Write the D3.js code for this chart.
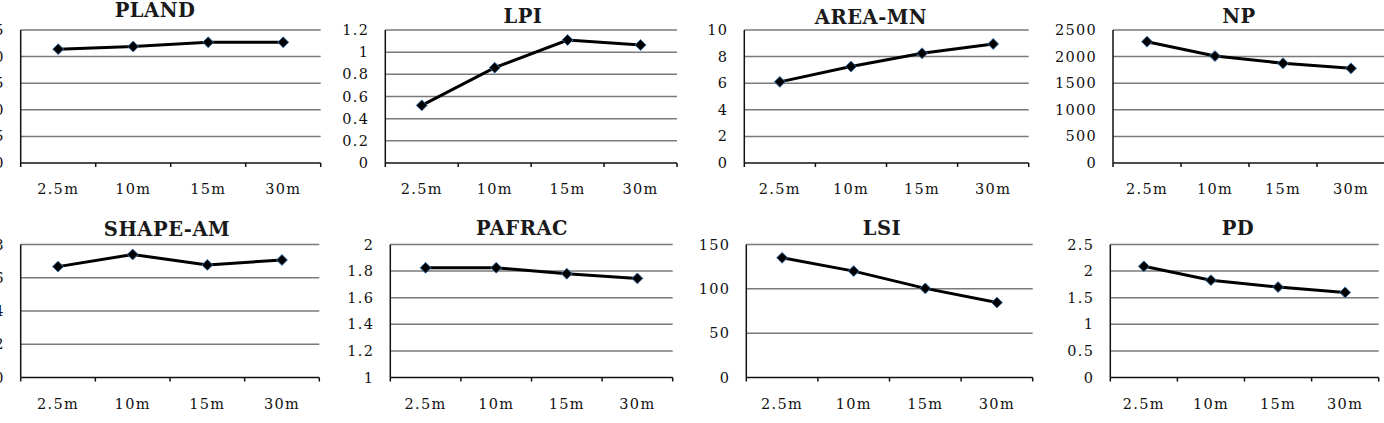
<!DOCTYPE html>
<html>
<head>
<meta charset="utf-8">
<script src="https://cdn.jsdelivr.net/npm/d3@7"></script>
<style>
  body { margin: 0; background: #fff; }
  svg { display: block; }
  .tick-label { font-family: "DejaVu Serif", serif; font-size: 14.5px; fill: #111; letter-spacing: 1.3px; }
  .title { font-family: "DejaVu Serif", serif; font-size: 19.5px; font-weight: bold; fill: #1a1a1a; letter-spacing: 0.5px; }
</style>
</head>
<body>
<div id="chart"></div>
<script>
// resolutions on the x axis
var resolutions = ['2.5m', '10m', '15m', '30m']

// one small multiple per metric
var metrics = ['PLAND', 'LPI', 'AREA-MN', 'NP', 'SHAPE-AM', 'PAFRAC', 'LSI', 'PD']

var pland = [21.4, 21.9, 22.7, 22.7]
var lpi = [0.52, 0.86, 1.11, 1.065]
var areaMn = [6.1, 7.25, 8.25, 8.95]
var np = [2280, 2010, 1875, 1780]
var shapeAm = [6.67, 7.4, 6.77, 7.07]
var pafrac = [1.825, 1.825, 1.78, 1.745]
var lsi = [135, 120, 100.5, 84.5]
var pd = [2.09, 1.83, 1.7, 1.6]

var series = [pland, lpi, areaMn, np, shapeAm, pafrac, lsi, pd]

// y axis ranges and tick steps
var yMin = [0, 0, 0, 0, 0, 1, 0, 0]
var yMax = [25, 1.2, 10, 2500, 8, 2, 150, 2.5]
var yStep = [5, 0.2, 2, 500, 2, 0.2, 50, 0.5]

var width = 1384
var height = 423

// plot box of each panel: left, right, top, bottom, title x, title baseline
var frames = [
  [20.7, 320.7, 30, 163, 155, 17],
  [385.3, 677, 30, 163, 523, 23],
  [744.3, 1028.7, 30, 163, 871, 24],
  [1113, 1385, 30, 163, 1239, 23],
  [20.7, 319.3, 244.5, 377.5, 167, 236],
  [390.3, 672.7, 244.5, 377.5, 522, 235],
  [746.3, 1032.7, 244.5, 377.5, 882, 235],
  [1110.3, 1378.7, 244.5, 377.5, 1238, 235]
]

var svg = d3.select('#chart')
  .append('svg')
  .attr('width', width)
  .attr('height', height)

var fmt = d => String(+d.toFixed(2))

metrics.forEach(function(m, i) {
  var f = frames[i]
  var g = svg.append('g').attr('class', 'panel')

  var xScale = d3.scaleBand()
    .domain(resolutions)
    .range([f[0], f[1]])

  var yScale = d3.scaleLinear()
    .domain([yMin[i], yMax[i]])
    .range([f[3], f[2]])

  var ticks = d3.range(yMin[i], yMax[i] + yStep[i] / 2, yStep[i])

  // gridlines
  g.selectAll('.grid')
    .data(ticks.slice(1))
    .join('line')
    .attr('class', 'grid')
    .attr('x1', f[0])
    .attr('x2', f[1])
    .attr('y1', d => yScale(d))
    .attr('y2', d => yScale(d))
    .style('stroke', '#7a7a7a')
    .style('stroke-width', 1.5)

  // y labels
  g.selectAll('.ylab')
    .data(ticks)
    .join('text')
    .attr('class', 'tick-label ylab')
    .attr('x', f[0] - 16)
    .attr('y', d => yScale(d))
    .attr('dy', '0.35em')
    .attr('text-anchor', 'end')
    .text(fmt)

  // x axis
  g.append('line')
    .attr('x1', f[0]).attr('x2', f[1])
    .attr('y1', f[3]).attr('y2', f[3])
    .style('stroke', '#111')
    .style('stroke-width', 1.5)

  var edges = resolutions.map(r => xScale(r)).concat([f[1]])
  g.selectAll('.xtick')
    .data(edges)
    .join('line')
    .attr('x1', d => d).attr('x2', d => d)
    .attr('y1', f[3]).attr('y2', f[3] + 4)
    .style('stroke', '#111')
    .style('stroke-width', 1.5)

  g.selectAll('.xlab')
    .data(resolutions)
    .join('text')
    .attr('class', 'tick-label xlab')
    .attr('x', d => xScale(d) + xScale.bandwidth() / 2)
    .attr('y', f[3] + 31)
    .attr('text-anchor', 'middle')
    .text(d => d)

  // y axis line
  g.append('line')
    .attr('x1', f[0]).attr('x2', f[0])
    .attr('y1', f[2]).attr('y2', f[3])
    .style('stroke', '#111')
    .style('stroke-width', 1.5)

  // title
  g.append('text')
    .attr('class', 'title')
    .attr('x', f[4])
    .attr('y', f[5])
    .attr('text-anchor', 'middle')
    .text(m)

  var pts = series[i].map((v, j) => ({ x: resolutions[j], y: v }))

  var lineDraw = d3.line()
    .x(d => xScale(d.x) + xScale.bandwidth() / 2)
    .y(d => yScale(d.y))

  g.append('path')
    .datum(pts)
    .attr('d', lineDraw)
    .style('fill', 'none')
    .style('stroke', '#000')
    .style('stroke-width', 3)

  g.selectAll('.marker')
    .data(pts)
    .join('path')
    .attr('class', 'marker')
    .attr('d', d3.symbol(d3.symbolDiamond2, 75))
    .attr('transform', d => `translate(${xScale(d.x) + xScale.bandwidth() / 2},${yScale(d.y)})`)
    .style('fill', '#000')
    .style('stroke', '#3a6ea5')
    .style('stroke-width', 1)
})
</script>
</body>
</html>
